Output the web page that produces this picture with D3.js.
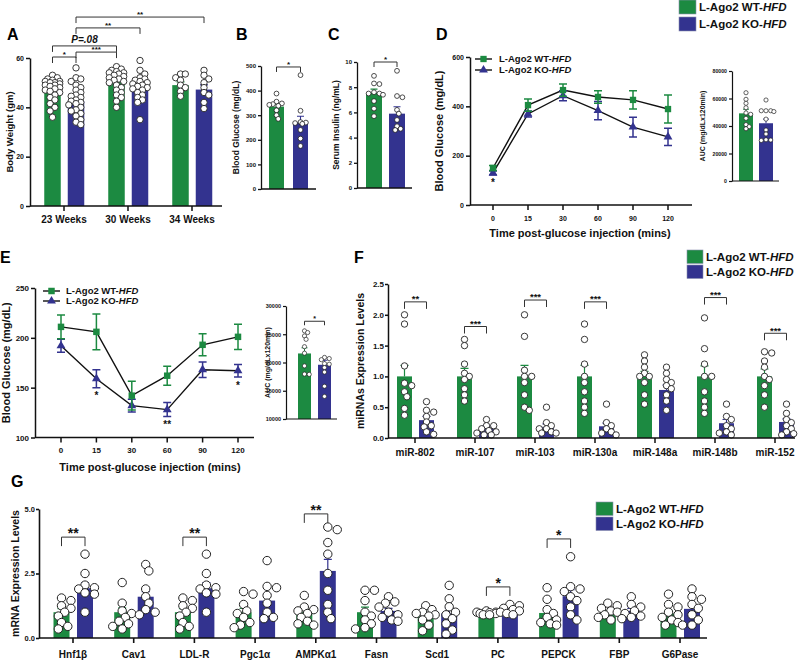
<!DOCTYPE html>
<html><head><meta charset="utf-8">
<script src="https://cdn.jsdelivr.net/npm/d3@7"></script>
<style>
body{margin:0;background:#fff}
svg{display:block;font-family:"Liberation Sans",Arial,sans-serif;font-weight:bold}
</style>
</head><body>
<svg id="c" width="800" height="661"></svg>
<script>
// ================= DATA =================
const groupNames = ["L-Ago2 WT-", "L-Ago2 KO-"];
const groupSuffix = "HFD";

// Panel A - body weight
const A_categories = ["23 Weeks", "30 Weeks", "34 Weeks"];
const A_wt = [46.8, 50.5, 49.0];
const A_wtErr = [0.9, 0.9, 1.3];
const A_ko = [42.5, 48.0, 47.2];
const A_koErr = [1.1, 1.0, 1.9];
const A_wtDots = [
  [53, 51.5, 51, 50.5, 50, 50, 49.5, 49, 49, 48.5, 48, 47.5, 47, 46.5, 46, 45, 44, 43, 41.5, 40, 38.5, 36, 52, 50.5],
  [56.5, 55.5, 55, 54.5, 54, 54, 53.5, 53, 52.5, 52, 51.5, 51, 50.5, 50, 49, 48, 47, 46, 45, 44, 42.5, 40],
  [53.5, 53.5, 52, 51, 49, 48, 46.5, 44.5]
];
const A_koDots = [
  [56, 52, 51.5, 50.5, 49, 48, 47, 46, 45, 44.5, 44, 43, 42.5, 42, 41.5, 41, 40, 39, 38.5, 37.5, 36.5, 35, 34, 33],
  [59, 55, 53.5, 52, 51.5, 51, 50.5, 50, 49.5, 49, 48.5, 48, 47.5, 47, 46, 45, 44, 43, 42, 35],
  [55, 53, 51.5, 50, 48, 46, 45, 42, 39.5]
];
const A_ticks = [0, 20, 40, 60];
const A_brackets = [
  {a: [0, "wt"], b: [0, "ko"], y: 60.4, label: "*"},
  {a: [0, "ko"], b: [1, "wt"], y: 62.4, label: "***"},
  {a: [0, "wt"], b: [1, "wt"], y: 64.9, label: "P=.08", italic: true},
  {a: [0, "ko"], b: [1, "ko"], y: 72.2, label: "**"},
  {a: [0, "ko"], b: [2, "ko"], y: 76.6, label: "**"}
];

// Panel B - blood glucose
const B_wt = [335], B_wtErr = [10], B_ko = [271], B_koErr = [25];
const B_wtDots = [[388, 355, 348, 345, 342, 338, 320, 300, 285]];
const B_koDots = [[463, 318, 272, 270, 268, 265, 240, 205, 175]];
const B_ticks = [0, 100, 200, 300, 400, 500];
const B_brackets = [{a: [0, "wt"], b: [0, "ko"], y: 496, label: "*"}];

// Panel C - serum insulin
const C_wt = [7.55], C_wtErr = [0.3], C_ko = [5.9], C_koErr = [0.55];
const C_wtDots = [[8.9, 8.3, 8.25, 7.6, 7.5, 7.5, 7.4, 6.9, 6.3, 5.7]];
const C_koDots = [[9.3, 7.3, 7.2, 6.2, 5.9, 5.4, 4.9, 4.7, 4.6]];
const C_ticks = [0, 2, 4, 6, 8, 10];
const C_brackets = [{a: [0, "wt"], b: [0, "ko"], y: 10.0, label: "*"}];

// Panel D - GTT
const D_times = [0, 15, 30, 60, 90, 120];
const D_wt = [150, 405, 466, 438, 426, 389];
const D_wtErr = [10, 25, 25, 25, 37, 57];
const D_ko = [130, 369, 443, 383, 316, 276];
const D_koErr = [8, 12, 20, 37, 40, 35];
const D_ticks = [0, 200, 400, 600];
const D_stars = [{i: 0, v: 101, label: "*"}];
// Panel D inset - AUC
const DA_wt = [49200], DA_wtErr = [3000], DA_ko = [42000], DA_koErr = [3000];
const DA_wtDots = [[64200, 59400, 56500, 53300, 49500, 48500, 45600, 41000, 39500, 38000]];
const DA_koDots = [[58900, 51100, 51100, 51100, 50500, 45000, 37100, 34200, 30000, 29800, 29500]];
const DA_ticks = [0, 20000, 40000, 60000, 80000];

// Panel E - ITT
const E_times = [0, 15, 30, 60, 90, 120];
const E_wt = [211, 206, 142, 162, 193, 201];
const E_wtErr = [12, 18, 14.5, 9.5, 11, 12.6];
const E_ko = [192, 159, 132, 128, 168, 167];
const E_koErr = [6.5, 9, 6.5, 7, 7.7, 6.3];
const E_ticks = [100, 150, 200, 250];
const E_stars = [{i: 1, v: 144, label: "*"}, {i: 3, v: 115.6, label: "**"}, {i: 5, v: 154, label: "*"}];
// Panel E inset - AUC
const EA_wt = [21600], EA_wtErr = [1000], EA_ko = [19600], EA_koErr = [800];
const EA_wtDots = [[25600, 25300, 24700, 24100, 22800, 21650, 19400, 17950, 17900]];
const EA_koDots = [[20900, 20700, 20500, 19800, 19700, 19100, 18300, 15800, 14000]];
const EA_ticks = [10000, 15000, 20000, 25000, 30000];
const EA_brackets = [{a: [0, "wt"], b: [0, "ko"], y: 27300, label: "*"}];

// Panel F - miRNAs
const F_categories = ["miR-802", "miR-107", "miR-103", "miR-130a", "miR-148a", "miR-148b", "miR-152"];
const F_wt = [1.0, 1.0, 1.0, 1.0, 1.0, 1.0, 1.0];
const F_wtErr = [0.18, 0.13, 0.18, 0.18, 0.08, 0.17, 0.12];
const F_ko = [0.29, 0.17, 0.18, 0.19, 0.78, 0.24, 0.26];
const F_koErr = [0.06, 0.03, 0.05, 0.05, 0.08, 0.06, 0.05];
const F_wtDots = [
  [2.0, 1.85, 1.17, 0.89, 0.85, 0.75, 0.67, 0.48, 0.37],
  [1.6, 1.5, 1.2, 1.05, 1.0, 0.95, 0.8, 0.7, 0.6],
  [2.0, 1.65, 1.1, 1.0, 1.0, 0.9, 0.7, 0.5, 0.45],
  [1.85, 1.6, 1.2, 1.0, 0.9, 0.75, 0.6, 0.5, 0.4],
  [1.35, 1.25, 1.15, 1.05, 1.0, 1.0, 0.9, 0.7, 0.55],
  [1.95, 1.45, 1.2, 1.0, 1.0, 0.75, 0.6, 0.5, 0.4],
  [1.4, 1.38, 1.25, 1.15, 1.0, 0.95, 0.85, 0.7, 0.5]
];
const F_koDots = [
  [0.59, 0.45, 0.42, 0.35, 0.26, 0.2, 0.18, 0.1, 0.06],
  [0.3, 0.2, 0.2, 0.15, 0.12, 0.1, 0.08, 0.05, 0.05],
  [0.5, 0.25, 0.2, 0.15, 0.15, 0.1, 0.08, 0.08],
  [0.55, 0.25, 0.2, 0.15, 0.1, 0.08, 0.05],
  [1.15, 1.05, 0.95, 0.9, 0.85, 0.8, 0.7, 0.6, 0.45],
  [0.55, 0.35, 0.3, 0.2, 0.15, 0.1, 0.08, 0.05],
  [0.55, 0.4, 0.3, 0.25, 0.2, 0.15, 0.1, 0.07, 0.05]
];
const F_ticks = [0, 0.5, 1.0, 1.5, 2.0, 2.5];
const F_brackets = [
  {a: [0, "wt"], b: [0, "ko"], y: 2.21, label: "**"},
  {a: [1, "wt"], b: [1, "ko"], y: 1.81, label: "***"},
  {a: [2, "wt"], b: [2, "ko"], y: 2.24, label: "***"},
  {a: [3, "wt"], b: [3, "ko"], y: 2.21, label: "***"},
  {a: [5, "wt"], b: [5, "ko"], y: 2.28, label: "***"},
  {a: [6, "wt"], b: [6, "ko"], y: 1.70, label: "***"}
];

// Panel G - mRNAs
const G_categories = ["Hnf1β", "Cav1", "LDL-R", "Pgc1α", "AMPKα1", "Fasn", "Scd1", "PC", "PEPCK", "FBP", "G6Pase"];
const G_wt = [1.0, 1.0, 1.0, 1.0, 1.0, 1.0, 1.0, 0.98, 0.97, 0.98, 0.95];
const G_wtErr = [0.14, 0.17, 0.14, 0.15, 0.12, 0.2, 0.12, 0.03, 0.15, 0.07, 0.12];
const G_ko = [1.93, 1.6, 1.93, 1.45, 2.6, 1.05, 0.95, 1.08, 1.62, 1.05, 1.13];
const G_koErr = [0.22, 0.2, 0.22, 0.25, 0.45, 0.1, 0.2, 0.05, 0.25, 0.1, 0.17];
const G_wtDots = [
  [1.55, 1.45, 1.25, 1.15, 1.0, 0.85, 0.6, 0.45, 0.35],
  [2.15, 1.35, 1.05, 0.95, 0.8, 0.65, 0.55, 0.45, 0.35],
  [1.55, 1.45, 1.25, 1.15, 1.0, 0.85, 0.6, 0.45, 0.35],
  [1.8, 1.7, 1.3, 1.05, 0.95, 0.8, 0.6, 0.5, 0.4],
  [1.65, 1.2, 1.1, 1.05, 0.95, 0.8, 0.65, 0.55, 0.5],
  [1.85, 1.85, 1.45, 1.0, 0.85, 0.7, 0.55, 0.4, 0.35],
  [1.25, 1.1, 1.0, 0.95, 0.9, 0.85, 0.7, 0.5, 0.28],
  [1.05, 1.0, 1.0, 0.98, 0.95, 0.95, 0.9, 0.9],
  [1.95, 1.5, 1.1, 0.95, 0.8, 0.7, 0.6, 0.55, 0.5],
  [1.35, 1.25, 1.15, 1.05, 1.0, 0.9, 0.8, 0.7],
  [1.7, 1.3, 1.2, 1.0, 0.9, 0.8, 0.7, 0.6, 0.5]
];
const G_koDots = [
  [3.25, 2.5, 2.05, 1.95, 1.9, 1.75, 1.7, 1.0],
  [2.85, 2.6, 1.9, 1.6, 1.35, 1.1, 1.0, 0.9],
  [3.25, 2.5, 2.05, 1.95, 1.9, 1.75, 1.7, 1.0],
  [3.0, 2.0, 1.95, 1.65, 1.35, 1.0, 0.8, 0.75],
  [4.3, 4.2, 3.7, 3.25, 2.5, 1.85, 1.3, 1.0, 0.75],
  [1.6, 1.4, 1.35, 1.2, 1.0, 0.9, 0.8, 0.7, 0.65],
  [2.04, 1.52, 1.21, 1.0, 0.9, 0.75, 0.55, 0.31, 0.15],
  [1.3, 1.25, 1.15, 1.1, 1.05, 1.0, 0.95, 0.9],
  [3.15, 1.99, 1.9, 1.8, 1.6, 1.45, 1.2, 0.9, 0.7],
  [1.6, 1.3, 1.2, 1.05, 0.95, 0.85, 0.8, 0.75],
  [1.9, 1.6, 1.5, 1.3, 1.15, 0.9, 0.7, 0.5, 0.5]
];
const G_ticks = [0, 2.5, 5.0];
const G_brackets = [
  {a: [0, "wt"], b: [0, "ko"], y: 3.91, label: "**"},
  {a: [2, "wt"], b: [2, "ko"], y: 3.91, label: "**"},
  {a: [4, "wt"], b: [4, "ko"], y: 4.81, label: "**"},
  {a: [7, "wt"], b: [7, "ko"], y: 1.98, label: "*"},
  {a: [8, "wt"], b: [8, "ko"], y: 3.84, label: "*"}
];

// ================= DRAWING =================
const GREEN = "#1c8a41", BLUE = "#33338f", INK = "#111";
const svg = d3.select("#c");

function swarm(values, y, cx, r, maxHalf, tight) {
  const pts = values.map(v => ({v, py: y(v)})).sort((a, b) => a.py - b.py);
  const placed = [];
  const step = r * 0.75;
  const cands = [0];
  for (let k = 1; k * step <= maxHalf + 0.01; k++) cands.push(k * step, -k * step);
  const minD = 2 * r * tight;
  pts.forEach(p => {
    let best = 0, bestOv = Infinity;
    for (const off of cands) {
      let ov = 0;
      for (const q of placed) {
        const d = Math.hypot(q.px - (cx + off), q.py - p.py);
        if (d < minD) ov += minD - d;
      }
      if (ov < 0.01) { best = off; bestOv = 0; break; }
      if (ov < bestOv) { bestOv = ov; best = off; }
    }
    p.px = cx + best;
    placed.push(p);
  });
  return placed;
}

function styleAxis(gg, fs, sw) {
  gg.attr("font-family", null).attr("font-size", null);
  gg.selectAll("text").attr("font-size", fs).attr("font-weight", "bold").attr("fill", INK);
  gg.select(".domain").attr("stroke", INK).attr("stroke-width", sw);
  gg.selectAll(".tick line").attr("stroke", INK).attr("stroke-width", sw);
}

function yTitle(text, x, yc, fs) {
  svg.append("text").attr("transform", `translate(${x},${yc}) rotate(-90)`)
    .attr("text-anchor", "middle").attr("dy", "0.35em").attr("font-size", fs).attr("fill", INK).text(text);
}

function panelLetter(t, x, y) {
  svg.append("text").attr("x", x).attr("y", y).attr("font-size", 16).attr("fill", "#000").text(t);
}

function groupLabel(sel, i) {
  sel.append("tspan").text(groupNames[i]);
  sel.append("tspan").attr("font-style", "italic").text(groupSuffix);
}

function barPanel(o) {
  const y = d3.scaleLinear().domain(o.yDomain).range(o.yRange);
  const x = d3.scaleBand().domain(o.categories).range(o.xRange);
  const off = {wt: o.offsets[0], ko: o.offsets[1]};
  const cx = (i, k) => x(o.categories[i]) + x.bandwidth() / 2 + off[k];
  const base = y(o.yDomain[0]);
  const g = svg.append("g");
  const series = [
    {k: "wt", m: o.wt, e: o.wtErr, d: o.wtDots, c: GREEN},
    {k: "ko", m: o.ko, e: o.koErr, d: o.koDots, c: BLUE}
  ];
  series.forEach(s => {
    g.append("g").selectAll("rect").data(s.m).join("rect")
      .attr("x", (d, i) => cx(i, s.k) - o.barW / 2).attr("width", o.barW)
      .attr("y", d => y(d)).attr("height", d => base - y(d)).attr("fill", s.c);
    g.append("g").selectAll("path").data(s.m).join("path")
      .attr("d", (d, i) => {
        const X = cx(i, s.k), t = y(d + s.e[i]), w = o.capW / 2;
        return `M${X},${y(d)}V${t}M${X - w},${t}H${X + w}`;
      })
      .attr("stroke", s.c).attr("stroke-width", o.errW).attr("fill", "none");
  });
  series.forEach(s => {
    s.d.forEach((vals, i) => {
      const pts = swarm(vals, y, cx(i, s.k), o.r, o.barW / 2 + o.spread, o.tight || 0.85);
      g.append("g").selectAll("circle").data(pts).join("circle")
        .attr("cx", p => p.px).attr("cy", p => p.py).attr("r", o.r)
        .attr("fill", "#fff").attr("stroke", "#222").attr("stroke-width", o.dotSW);
    });
  });
  // y axis
  const ya = g.append("g").attr("transform", `translate(${o.axisX[0]},0)`)
    .call(d3.axisLeft(y).tickValues(o.ticks).tickFormat(o.fmt).tickSizeInner(o.tickLen).tickSizeOuter(0).tickPadding(o.pad == null ? 2 : o.pad));
  styleAxis(ya, o.tickFS, o.axisW);
  // x axis line
  g.append("line").attr("x1", o.axisX[0]).attr("x2", o.axisX[1]).attr("y1", base).attr("y2", base)
    .attr("stroke", INK).attr("stroke-width", o.axisW);
  if (o.catFS) {
    o.categories.forEach((c, i) => {
      const X = x(c) + x.bandwidth() / 2;
      g.append("line").attr("x1", X).attr("x2", X).attr("y1", base).attr("y2", base + 5)
        .attr("stroke", INK).attr("stroke-width", o.axisW);
      g.append("text").attr("x", X).attr("y", o.catY).attr("text-anchor", "middle")
        .attr("font-size", o.catFS).attr("fill", INK).text(c);
    });
  }
  // brackets
  (o.brackets || []).forEach(b => {
    const x1 = cx(b.a[0], b.a[1]), x2 = cx(b.b[0], b.b[1]), yy = y(b.y);
    g.append("path").attr("d", `M${x1},${yy + o.drop}V${yy}H${x2}V${yy + o.drop}`)
      .attr("fill", "none").attr("stroke", "#333").attr("stroke-width", o.brW || 1);
    const fs = b.italic ? o.pFS : o.starFS;
    const t = g.append("text").attr("x", (x1 + x2) / 2).attr("text-anchor", "middle").attr("font-size", fs).attr("fill", INK)
      .text(b.label);
    if (b.italic) t.attr("font-style", "italic").attr("y", yy - 3);
    else t.attr("y", yy - 2 + 0.24 * fs);
  });
  if (o.title) yTitle(o.title, o.titleX, (o.yRange[0] + o.yRange[1]) / 2, o.titleFS);
}

function linePanel(o) {
  const x = d3.scalePoint().domain(o.times).range(o.xRange);
  const y = d3.scaleLinear().domain(o.yDomain).range(o.yRange);
  const g = svg.append("g");
  const series = [
    {k: "ko", m: o.ko, e: o.koErr, c: BLUE, sym: d3.symbolTriangle, size: o.triSize},
    {k: "wt", m: o.wt, e: o.wtErr, c: GREEN, sym: d3.symbolSquare, size: o.sqSize}
  ];
  const line = d3.line().x((d, i) => x(o.times[i])).y(d => y(d));
  series.forEach(s => g.append("path").attr("d", line(s.m)).attr("fill", "none").attr("stroke", INK).attr("stroke-width", 1.4));
  series.forEach(s => {
    g.append("g").selectAll("path").data(s.m).join("path")
      .attr("d", (d, i) => {
        const X = x(o.times[i]), t = y(d + s.e[i]), b = y(d - s.e[i]), w = o.capW / 2;
        return `M${X - w},${t}H${X + w}M${X},${t}V${b}M${X - w},${b}H${X + w}`;
      })
      .attr("stroke", s.c).attr("stroke-width", 1.5).attr("fill", "none");
    g.append("g").selectAll("path").data(s.m).join("path")
      .attr("transform", (d, i) => `translate(${x(o.times[i])},${y(d)})`)
      .attr("d", d3.symbol(s.sym, s.size)).attr("fill", s.c);
  });
  const ya = g.append("g").attr("transform", `translate(${o.axisX[0]},0)`)
    .call(d3.axisLeft(y).tickValues(o.ticks).tickSizeInner(4).tickSizeOuter(0).tickPadding(2));
  styleAxis(ya, o.tickFS, 1.5);
  const base = y(o.yDomain[0]);
  g.append("line").attr("x1", o.axisX[0]).attr("x2", o.axisX[1]).attr("y1", base).attr("y2", base)
    .attr("stroke", INK).attr("stroke-width", 1.5);
  o.times.forEach(t => {
    g.append("line").attr("x1", x(t)).attr("x2", x(t)).attr("y1", base).attr("y2", base + 5).attr("stroke", INK).attr("stroke-width", 1.5);
    g.append("text").attr("x", x(t)).attr("y", o.tickLabelY).attr("text-anchor", "middle").attr("font-size", o.tickFS).attr("fill", INK).text(t);
  });
  g.append("text").attr("x", o.xTitleX).attr("y", o.xTitleY).attr("text-anchor", "middle").attr("font-size", o.titleFS).attr("fill", INK).text(o.xTitle);
  yTitle(o.yTitle, o.yTitleX, (o.yRange[0] + o.yRange[1]) / 2, o.titleFS);
  o.stars.forEach(s => {
    g.append("text").attr("x", x(o.times[s.i])).attr("y", y(s.v) + 0.56 * o.starFS).attr("text-anchor", "middle")
      .attr("font-size", o.starFS).attr("fill", INK).text(s.label);
  });
  // legend
  [["wt", GREEN, d3.symbolSquare, o.sqSize], ["ko", BLUE, d3.symbolTriangle, o.triSize]].forEach((L, i) => {
    const ly = o.legY[i];
    g.append("line").attr("x1", o.legX[0]).attr("x2", o.legX[1]).attr("y1", ly).attr("y2", ly).attr("stroke", INK).attr("stroke-width", 1.4);
    g.append("path").attr("transform", `translate(${(o.legX[0] + o.legX[1]) / 2},${ly})`).attr("d", d3.symbol(L[2], L[3])).attr("fill", L[1]);
    const t = g.append("text").attr("x", o.legX[2]).attr("y", ly).attr("dy", "0.35em").attr("font-size", o.legFS).attr("fill", INK);
    groupLabel(t, i);
  });
}

function squareLegend(x, y, w, h, gap, fs) {
  [GREEN, BLUE].forEach((c, i) => {
    const yy = y + i * (h + gap);
    svg.append("rect").attr("x", x).attr("y", yy).attr("width", w).attr("height", h).attr("fill", c)
      .attr("stroke", "#8a8fb0").attr("stroke-width", 0.6);
    const t = svg.append("text").attr("x", x + w + 3).attr("y", yy + h / 2).attr("dy", "0.36em").attr("font-size", fs).attr("fill", INK);
    groupLabel(t, i);
  });
}

// ---- Panel A ----
panelLetter("A", 7, 40);
barPanel({categories: A_categories, wt: A_wt, ko: A_ko, wtErr: A_wtErr, koErr: A_koErr, wtDots: A_wtDots, koDots: A_koDots,
  yDomain: [0, 60], yRange: [206, 58], xRange: [32, 224], offsets: [-11.5, 12], barW: 16.5, capW: 8, errW: 1.2,
  r: 3.2, spread: 1, tight: 0.72, dotSW: 0.9, ticks: A_ticks, fmt: d3.format("d"), tickLen: 4, tickFS: 7, axisW: 1.5,
  axisX: [30, 222], catFS: 10, catY: 223, brackets: A_brackets, drop: 6, starFS: 8, pFS: 10,
  title: "Body Weight (gm)", titleX: 10, titleFS: 9.5});

// ---- Panel B ----
panelLetter("B", 236, 40);
barPanel({categories: [""], wt: B_wt, ko: B_ko, wtErr: B_wtErr, koErr: B_koErr, wtDots: B_wtDots, koDots: B_koDots,
  yDomain: [0, 500], yRange: [189, 66], xRange: [278.5, 298.5], offsets: [-12, 12], barW: 15, capW: 7, errW: 1.1,
  r: 2.4, spread: 1, dotSW: 0.8, ticks: B_ticks, fmt: d3.format("d"), tickLen: 3, tickFS: 6, axisW: 1.3,
  axisX: [261, 316], brackets: B_brackets, drop: 5, starFS: 8,
  title: "Blood Glucose (mg/dL)", titleX: 236, titleFS: 8.5});

// ---- Panel C ----
panelLetter("C", 328, 40);
barPanel({categories: [""], wt: C_wt, ko: C_ko, wtErr: C_wtErr, koErr: C_koErr, wtDots: C_wtDots, koDots: C_koDots,
  yDomain: [0, 10], yRange: [188, 62], xRange: [375.5, 395.5], offsets: [-11.5, 11.5], barW: 16, capW: 7, errW: 1.1,
  r: 2.4, spread: 1, dotSW: 0.8, ticks: C_ticks, fmt: d3.format("d"), tickLen: 3, tickFS: 6, axisW: 1.3,
  axisX: [357, 412], brackets: C_brackets, drop: 5, starFS: 8,
  title: "Serum Insulin (ng/mL)", titleX: 336, titleFS: 8.5});

// ---- Panel D ----
panelLetter("D", 436, 40);
linePanel({times: D_times, wt: D_wt, ko: D_ko, wtErr: D_wtErr, koErr: D_koErr, yDomain: [0, 600], yRange: [205, 57],
  xRange: [493, 668], axisX: [470, 692], ticks: D_ticks, tickFS: 7, tickLabelY: 221, capW: 8, sqSize: 40, triSize: 34,
  xTitle: "Time post-glucose injection (mins)", xTitleX: 580, xTitleY: 237, titleFS: 11,
  yTitle: "Blood Glucose (mg/dL)", yTitleX: 439, stars: D_stars, starFS: 10,
  legX: [475, 492, 499], legY: [59, 70], legFS: 9.5});
barPanel({categories: [""], wt: DA_wt, ko: DA_ko, wtErr: DA_wtErr, koErr: DA_koErr, wtDots: DA_wtDots, koDots: DA_koDots,
  yDomain: [0, 80000], yRange: [181, 71], xRange: [746, 766], offsets: [-10, 10], barW: 14, capW: 6, errW: 1,
  r: 2.1, spread: 1, dotSW: 0.7, ticks: DA_ticks, fmt: d3.format("d"), tickLen: 3, tickFS: 5.2, axisW: 1.2,
  axisX: [732, 779], brackets: [], drop: 4, starFS: 7,
  title: "AUC (mg/dLx120min)", titleX: 703, titleFS: 7});
squareLegend(679, 0, 17, 14, 3, 11.5);

// ---- Panel E ----
panelLetter("E", 0, 263);
linePanel({times: E_times, wt: E_wt, ko: E_ko, wtErr: E_wtErr, koErr: E_koErr, yDomain: [100, 250], yRange: [437.5, 288],
  xRange: [61, 238], axisX: [35, 254], ticks: E_ticks, tickFS: 8, tickLabelY: 453, capW: 8, sqSize: 42, triSize: 34,
  xTitle: "Time post-glucose injection (mins)", xTitleX: 150, xTitleY: 471, titleFS: 11,
  yTitle: "Blood Glucose (mg/dL)", yTitleX: 6, stars: E_stars, starFS: 10,
  legX: [43, 60, 66], legY: [291, 301], legFS: 9.5});
barPanel({categories: [""], wt: EA_wt, ko: EA_ko, wtErr: EA_wtErr, koErr: EA_koErr, wtDots: EA_wtDots, koDots: EA_koDots,
  yDomain: [10000, 30000], yRange: [419, 306], xRange: [304.5, 324.5], offsets: [-10, 10], barW: 13, capW: 6, errW: 1,
  r: 2.1, spread: 1, dotSW: 0.7, ticks: EA_ticks, fmt: d3.format("d"), tickLen: 3, tickFS: 5.5, axisW: 1.2,
  axisX: [286, 337], brackets: EA_brackets, drop: 4, starFS: 7,
  title: "AUC (mg/dLx120min)", titleX: 268, titleFS: 7});

// ---- Panel F ----
panelLetter("F", 354, 263);
barPanel({categories: F_categories, wt: F_wt, ko: F_ko, wtErr: F_wtErr, koErr: F_koErr, wtDots: F_wtDots, koDots: F_koDots,
  yDomain: [0, 2.5], yRange: [438, 284], xRange: [385, 805], offsets: [-10.5, 11.5], barW: 15, capW: 8, errW: 1.2,
  r: 3.2, spread: 2.5, dotSW: 0.9, ticks: F_ticks, fmt: d3.format(".1f"), tickLen: 3, pad: 1, tickFS: 8, axisW: 1.5,
  axisX: [388, 795], catFS: 10, catY: 456, brackets: F_brackets, drop: 7, starFS: 9.5,
  title: "miRNAs Expression Levels", titleX: 360, titleFS: 10.5});
squareLegend(687, 250, 16, 13.5, 1.5, 11.5);

// ---- Panel G ----
panelLetter("G", 11, 487);
barPanel({categories: G_categories, wt: G_wt, ko: G_ko, wtErr: G_wtErr, koErr: G_koErr, wtDots: G_wtDots, koDots: G_koDots,
  yDomain: [0, 5], yRange: [638, 509], xRange: [42.65, 710.35], offsets: [-11.5, 12], barW: 16, capW: 8, errW: 1.2,
  r: 4.2, spread: 2.5, dotSW: 1, ticks: G_ticks, fmt: d3.format(".1f"), tickLen: 3, pad: 1, tickFS: 7.5, axisW: 1.6,
  axisX: [39, 707], catFS: 10, catY: 658, brackets: G_brackets, drop: 9, starFS: 14,
  title: "mRNA Expression Levels", titleX: 15, titleFS: 10.5});
squareLegend(596, 502, 17, 13.5, 1.5, 11.5);
</script>
</body></html>
